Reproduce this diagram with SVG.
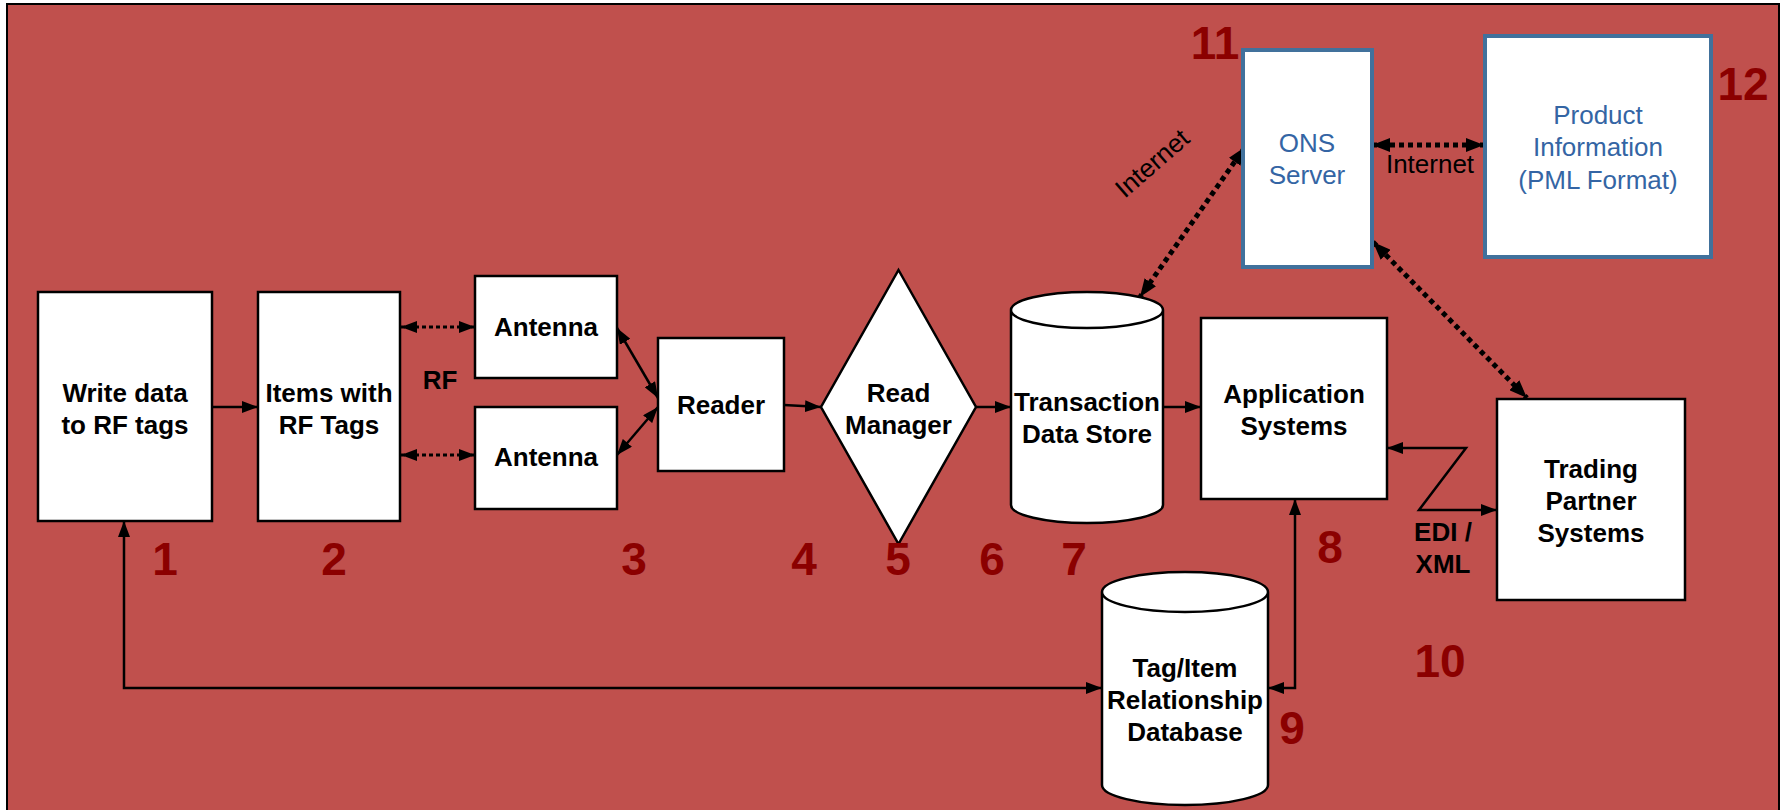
<svg xmlns="http://www.w3.org/2000/svg" width="1786" height="810" viewBox="0 0 1786 810">
<defs>
<style>
.bg{fill:#C0504D;stroke:#000;stroke-width:2}
.box{fill:#fff;stroke:#000;stroke-width:2.5}
.bbox{fill:#fff;stroke:#41719C;stroke-width:4}
.t{font-family:"Liberation Sans",Arial,sans-serif;font-size:26px;font-weight:bold;fill:#000;text-anchor:middle}
.tb{font-family:"Liberation Sans",Arial,sans-serif;font-size:26px;fill:#3465A4;text-anchor:middle}
.tn{font-family:"Liberation Sans",Arial,sans-serif;font-size:26px;fill:#000;text-anchor:middle}
.num{font-family:"Liberation Sans",Arial,sans-serif;font-size:46px;font-weight:bold;fill:#8B0000;text-anchor:middle}
.ln{fill:none;stroke:#000;stroke-width:2.5}
.dot{fill:none;stroke:#000;stroke-width:5;stroke-dasharray:5 4}
.dots{fill:none;stroke:#000;stroke-width:3;stroke-dasharray:4 3}
</style>
<marker id="ah" viewBox="0 0 16 12" refX="16" refY="6" markerWidth="16" markerHeight="12" markerUnits="userSpaceOnUse" orient="auto-start-reverse"><path d="M0,0 L16,6 L0,12 z" fill="#000"/></marker>
<marker id="ahd" viewBox="0 0 18 14" refX="18" refY="7" markerWidth="18" markerHeight="14" markerUnits="userSpaceOnUse" orient="auto-start-reverse"><path d="M0,0 L18,7 L0,14 z" fill="#000"/></marker>
</defs>
<rect class="bg" x="7" y="4" width="1772" height="812"/>

<g id="connectors">
<line class="ln" x1="212" y1="407" x2="258" y2="407" marker-end="url(#ah)"/>
<line class="dots" x1="401" y1="327" x2="475" y2="327" marker-start="url(#ah)" marker-end="url(#ah)"/>
<line class="dots" x1="401" y1="455" x2="475" y2="455" marker-start="url(#ah)" marker-end="url(#ah)"/>
<line class="ln" x1="617" y1="328" x2="658" y2="398" marker-start="url(#ah)" marker-end="url(#ah)"/>
<line class="ln" x1="617" y1="455" x2="658" y2="407" marker-start="url(#ah)" marker-end="url(#ah)"/>
<line class="ln" x1="784" y1="405" x2="821" y2="407" marker-end="url(#ah)"/>
<line class="ln" x1="976" y1="407" x2="1011" y2="407" marker-end="url(#ah)"/>
<line class="ln" x1="1163" y1="407" x2="1201" y2="407" marker-end="url(#ah)"/>
<polyline class="ln" points="124,521 124,688 1102,688" marker-start="url(#ah)" marker-end="url(#ah)"/>
<polyline class="ln" points="1295,499 1295,688 1268,688" marker-start="url(#ah)" marker-end="url(#ah)"/>
<polyline class="ln" points="1387,448 1466,448 1419,510 1497,510" marker-start="url(#ah)" marker-end="url(#ah)"/>
<line class="dot" x1="1245" y1="147" x2="1140" y2="297" marker-start="url(#ahd)" marker-end="url(#ahd)"/>
<line class="dot" x1="1372" y1="145" x2="1484" y2="145" marker-start="url(#ahd)" marker-end="url(#ahd)"/>
<line class="dot" x1="1373" y1="242" x2="1527" y2="398" marker-start="url(#ahd)" marker-end="url(#ahd)"/>
<text class="t" x="440" y="389">RF</text>
<text class="tn" transform="translate(1158,170) rotate(-41)" x="0" y="0">Internet</text>
<text class="tn" x="1430" y="173">Internet</text>
<text class="t" x="1443" y="541">EDI /</text>
<text class="t" x="1443" y="573">XML</text>
</g>

<g id="n1"><rect class="box" x="38" y="292" width="174" height="229"/>
<text class="t" x="125" y="402">Write data</text><text class="t" x="125" y="434">to RF tags</text></g>
<g id="n2"><rect class="box" x="258" y="292" width="142" height="229"/>
<text class="t" x="329" y="402">Items with</text><text class="t" x="329" y="434">RF Tags</text></g>
<g id="n3a"><rect class="box" x="475" y="276" width="142" height="102"/>
<text class="t" x="546" y="336">Antenna</text></g>
<g id="n3b"><rect class="box" x="475" y="407" width="142" height="102"/>
<text class="t" x="546" y="466">Antenna</text></g>
<g id="n4"><rect class="box" x="658" y="338" width="126" height="133"/>
<text class="t" x="721" y="414">Reader</text></g>
<g id="n5"><polygon class="box" points="898.5,270 976,407 898.5,544 821,407"/>
<text class="t" x="898.5" y="402">Read</text><text class="t" x="898.5" y="434">Manager</text></g>
<g id="n7"><path class="box" d="M1011,310 L1011,505 A76,18 0 0 0 1163,505 L1163,310 A76,18 0 0 0 1011,310 A76,18 0 0 0 1163,310"/>
<text class="t" x="1087" y="411">Transaction</text><text class="t" x="1087" y="443">Data Store</text></g>
<g id="n8"><rect class="box" x="1201" y="318" width="186" height="181"/>
<text class="t" x="1294" y="403">Application</text><text class="t" x="1294" y="435">Systems</text></g>
<g id="n9"><path class="box" d="M1102,592 L1102,785 A83,20 0 0 0 1268,785 L1268,592 A83,20 0 0 0 1102,592 A83,20 0 0 0 1268,592"/>
<text class="t" x="1185" y="677">Tag/Item</text><text class="t" x="1185" y="709">Relationship</text><text class="t" x="1185" y="741">Database</text></g>
<g id="n10"><rect class="box" x="1497" y="399" width="188" height="201"/>
<text class="t" x="1591" y="478">Trading</text><text class="t" x="1591" y="510">Partner</text><text class="t" x="1591" y="542">Systems</text></g>
<g id="n11"><rect class="bbox" x="1243" y="50" width="129" height="217"/>
<text class="tb" x="1307" y="152">ONS</text><text class="tb" x="1307" y="184">Server</text></g>
<g id="n12"><rect class="bbox" x="1485" y="36" width="226" height="221"/>
<text class="tb" x="1598" y="124">Product</text><text class="tb" x="1598" y="156">Information</text><text class="tb" x="1598" y="189">(PML Format)</text></g>

<g id="numbers">
<text class="num" x="165" y="575">1</text>
<text class="num" x="334" y="575">2</text>
<text class="num" x="634" y="575">3</text>
<text class="num" x="804" y="575">4</text>
<text class="num" x="898" y="575">5</text>
<text class="num" x="992" y="575">6</text>
<text class="num" x="1074" y="575">7</text>
<text class="num" x="1330" y="563">8</text>
<text class="num" x="1292" y="744">9</text>
<text class="num" x="1440" y="677">10</text>
<text class="num" x="1215" y="59">11</text>
<text class="num" x="1743" y="100">12</text>
</g>
</svg>
